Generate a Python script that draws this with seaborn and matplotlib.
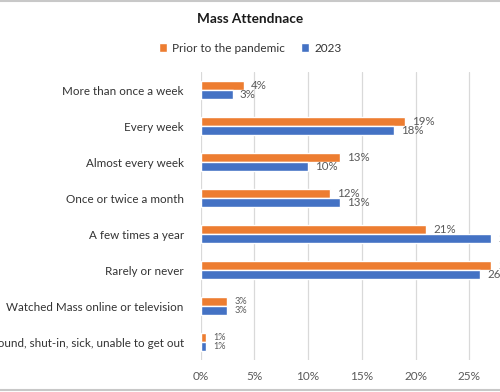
import pandas as pd
import numpy as np
import matplotlib.pyplot as plt
import matplotlib.lines as mlines
import seaborn as sns

# Dati
categories = ["More than once a week", "Every week", "Almost every week",
              "Once or twice a month", "A few times a year", "Rarely or never",
              "Watched Mass online or television",
              "Homebound, shut-in, sick, unable to get out"]
prior = [4, 19, 13, 12, 21, 27, 2.5, 0.5]
y2023 = [3, 18, 10, 13, 27, 26, 2.5, 0.5]
series_names = ["Prior to the pandemic", "2023"]
xticks = [0, 5, 10, 15, 20, 25]

df = pd.DataFrame({
    "category": categories * 2,
    "value": prior + y2023,
    "period": [series_names[0]] * len(categories) + [series_names[1]] * len(categories),
})

sns.set_style("white")
plt.rcParams['font.family'] = ['Lato', 'DejaVu Sans']

fig = plt.figure(figsize=(5, 3.92), dpi=100)
# asse spostato: etichette tagliate a sinistra e barre oltre il bordo destro
ax = fig.add_axes([0.401, 0.0816, 0.6456, 0.7347])

sns.barplot(data=df, x="value", y="category", hue="period", orient="h",
            palette=["#ED7D31", "#4472C4"], width=0.5, ax=ax, legend=True,
            saturation=1)

ax.set_xlim(0, 30)
ax.set_xticks(xticks)
ax.set_xticklabels([f"{t}%" for t in xticks], fontsize=8.5, color="#595959")
ax.tick_params(axis="y", labelsize=8.4, labelcolor="#333333", length=0, pad=12)
ax.tick_params(axis="x", length=0, pad=8)
ax.set_xlabel("")
ax.set_ylabel("")
ax.grid(axis="x", color="#D9D9D9", linewidth=0.9)
ax.set_axisbelow(True)
for s in ax.spines.values():
    s.set_visible(False)

# etichette dei valori; più piccole per le ultime due categorie (come nell'originale)
for cont in ax.containers:
    labels = [f"{int(v + 0.5)}%" for v in cont.datavalues]
    texts = ax.bar_label(cont, labels=labels, padding=5, fontsize=8.3, color="#595959")
    for t in texts[-2:]:
        t.set_fontsize(6.6)

handles, labs = ax.get_legend_handles_labels()
ax.legend_.remove()
fig.legend(handles, labs, loc="center", bbox_to_anchor=(0.5, 1 - 48 / 392),
           ncol=2, frameon=False, fontsize=8.5, handlelength=0.7,
           handleheight=0.7, handletextpad=0.4, columnspacing=1.4,
           labelcolor="#333333")

fig.text(0.5, 1 - 19 / 392, "Mass Attendnace", ha="center", va="center",
         fontsize=9.8, fontweight="bold", color="#1a1a1a")

# bordo grigio sopra e sotto
fig.add_artist(mlines.Line2D([0, 1], [0.998, 0.998], color="#C8C8C8", lw=1.5))
fig.add_artist(mlines.Line2D([0, 1], [0.004, 0.004], color="#C8C8C8", lw=1.5))

fig.savefig("out.png", dpi=100)
